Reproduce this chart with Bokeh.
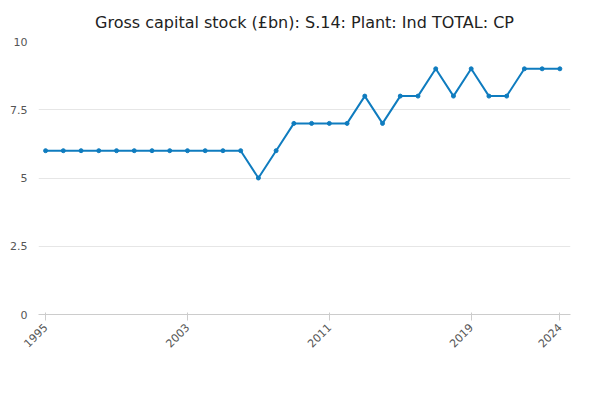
from bokeh.plotting import figure
from bokeh.embed import file_html
from bokeh.resources import INLINE
from bokeh.models import Range1d, FixedTicker, Label, Legend, LegendItem
import math

years = list(range(1995, 2025))
values = [6,6,6,6,6,6,6,6,6,6,6,6,5,6,7,7,7,7,8,7,8,8,9,8,9,8,8,9,9,9]
xticks = [1995, 2003, 2011, 2019, 2024]
yticks = [0, 2.5, 5, 7.5, 10]
color = "#0f7cbf"
FONT = "DejaVu Sans"

p = figure(width=584, height=384, output_backend="svg", toolbar_location=None,
           x_range=Range1d(1994.6, 2024.6), y_range=Range1d(0, 10),
           min_border_left=38, min_border_right=14, min_border_top=10, min_border_bottom=70)
p.title.text = "Gross capital stock (£bn): S.14: Plant: Ind TOTAL: CP"
p.title.text_font = FONT
p.title.text_font_size = "16px"
p.title.text_font_style = "normal"
p.title.text_color = "#222222"
p.title.align = "center"
p.title.standoff = 20
p.outline_line_color = None

r = p.line(years, values, line_color=color, line_width=2)
s = p.scatter(years, values, size=4, fill_color=color, line_color=color)

p.xaxis.ticker = FixedTicker(ticks=xticks)
p.xaxis.major_label_orientation = math.pi/4
p.yaxis.ticker = FixedTicker(ticks=yticks)
p.yaxis.major_label_overrides = {0: "0", 2.5: "2.5", 5: "5", 7.5: "7.5", 10: "10"}
for ax in (p.xaxis, p.yaxis):
    ax.major_label_text_font = FONT
    ax.major_label_text_font_size = "11px"
    ax.major_label_text_color = "#555555"
    ax.minor_tick_line_color = None
p.yaxis.axis_line_color = None
p.yaxis.major_tick_line_color = None
p.xaxis.axis_line_color = "#cccccc"
p.xaxis.major_tick_line_color = "#cccccc"
p.xgrid.grid_line_color = None
p.ygrid.grid_line_color = "#e6e6e6"

p.add_layout(Label(x=-30, y=268, x_units="screen", y_units="screen", text="£bn",
                   text_font=FONT, text_font_size="11px", text_color="#555555"))

leg = Legend(items=[LegendItem(label="Gross capital stock (£bn): S.14: Plant: Ind TOTAL: CP", renderers=[r, s])],
             location=(55, -70), orientation="horizontal", border_line_color=None,
             label_text_font=FONT, label_text_font_size="12px", label_text_font_style="bold",
             label_text_color="#333333", glyph_width=20, background_fill_alpha=0, padding=0, margin=0)
p.add_layout(leg)
p.add_layout(Label(x=542, y=-82, x_units="screen", y_units="screen", text="Source:",
                   text_font=FONT, text_font_size="12px", text_color="#555555", text_align="right"))

open("out.html", "w").write(file_html(p, INLINE))
